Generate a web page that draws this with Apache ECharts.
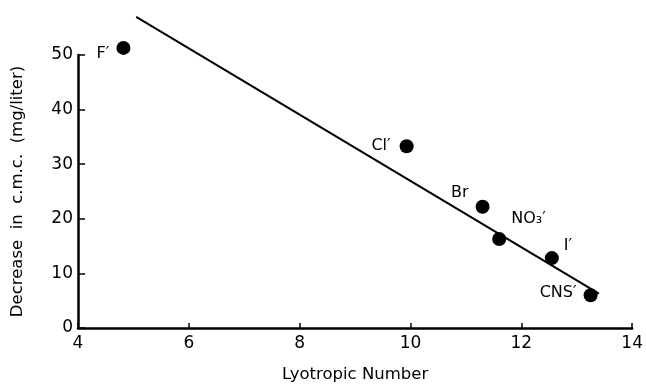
<!DOCTYPE html>
<html><head><meta charset="utf-8">
<script src="https://cdn.jsdelivr.net/npm/echarts@6/dist/echarts.min.js"></script>
<style>html,body{margin:0;padding:0;background:#fff}#c{width:646px;height:388px}</style>
</head><body><div id="c"></div>
<script>
var ionNames = ['F\u2032', 'Cl\u2032', 'Br', 'NO\u2083\u2032', 'I\u2032', 'CNS\u2032'];
var lyotropicNumber = [4.82, 9.93, 11.30, 11.60, 12.55, 13.25];
var cmcDecrease = [51.3, 33.3, 22.2, 16.3, 12.8, 6.0];
var fitLineX = [5.05, 13.40];
var fitLineY = [57.0, 6.3];
var xTicks = [4, 6, 8, 10, 12, 14];
var yTicks = [0, 10, 20, 30, 40, 50];

var labelPlacement = [
  {position: 'left', offset: [-2, 6]},
  {position: 'left', offset: [-4, 0]},
  {position: 'left', offset: [-2, -14]},
  {position: 'right', offset: [0, -20]},
  {position: 'right', offset: [0, -12]},
  {position: 'left', offset: [-2, -2]}
];

var pts = lyotropicNumber.map(function (x, i) {
  return {name: ionNames[i], value: [x, cmcDecrease[i]],
    label: {show: true, position: labelPlacement[i].position, offset: labelPlacement[i].offset,
      formatter: '{b}', color: '#000', fontSize: 16, fontFamily: 'DejaVu Sans'}};
});
var linePts = fitLineX.map(function (x, i) { return [x, fitLineY[i]]; });

var chart = echarts.init(document.getElementById('c'));
chart.setOption({
  animation: false,
  backgroundColor: '#fff',
  grid: {left: 78, right: 9, top: 55, bottom: 60, containLabel: false},
  xAxis: {
    type: 'value', min: xTicks[0], max: xTicks[xTicks.length - 1], interval: 2,
    name: 'Lyotropic Number', nameLocation: 'middle', nameGap: 38,
    nameTextStyle: {color: '#000', fontSize: 16.5, fontFamily: 'DejaVu Sans'},
    axisLine: {show: true, lineStyle: {color: '#000', width: 2.5}},
    axisTick: {show: true, inside: true, length: 5, lineStyle: {color: '#000', width: 1.5}},
    axisLabel: {color: '#000', fontSize: 17, fontFamily: 'DejaVu Sans', margin: 7},
    splitLine: {show: false}
  },
  yAxis: {
    type: 'value', min: yTicks[0], max: yTicks[yTicks.length - 1], interval: 10,
    name: 'Decrease  in  c.m.c.  (mg/liter)', nameLocation: 'middle', nameGap: 52,
    nameTextStyle: {color: '#000', fontSize: 16.5, fontFamily: 'DejaVu Sans'},
    axisLine: {show: true, lineStyle: {color: '#000', width: 2.5}},
    axisTick: {show: true, inside: true, length: 7, lineStyle: {color: '#000', width: 1.5}},
    axisLabel: {color: '#000', fontSize: 17, fontFamily: 'DejaVu Sans', margin: 5},
    splitLine: {show: false}
  },
  series: [
    {type: 'line', data: linePts, symbol: 'none', clip: false,
      lineStyle: {color: '#000', width: 2}, silent: true},
    {type: 'scatter', data: pts, symbol: 'circle', symbolSize: 14, clip: false,
      itemStyle: {color: '#000', opacity: 1}}
  ]
});
</script></body></html>
